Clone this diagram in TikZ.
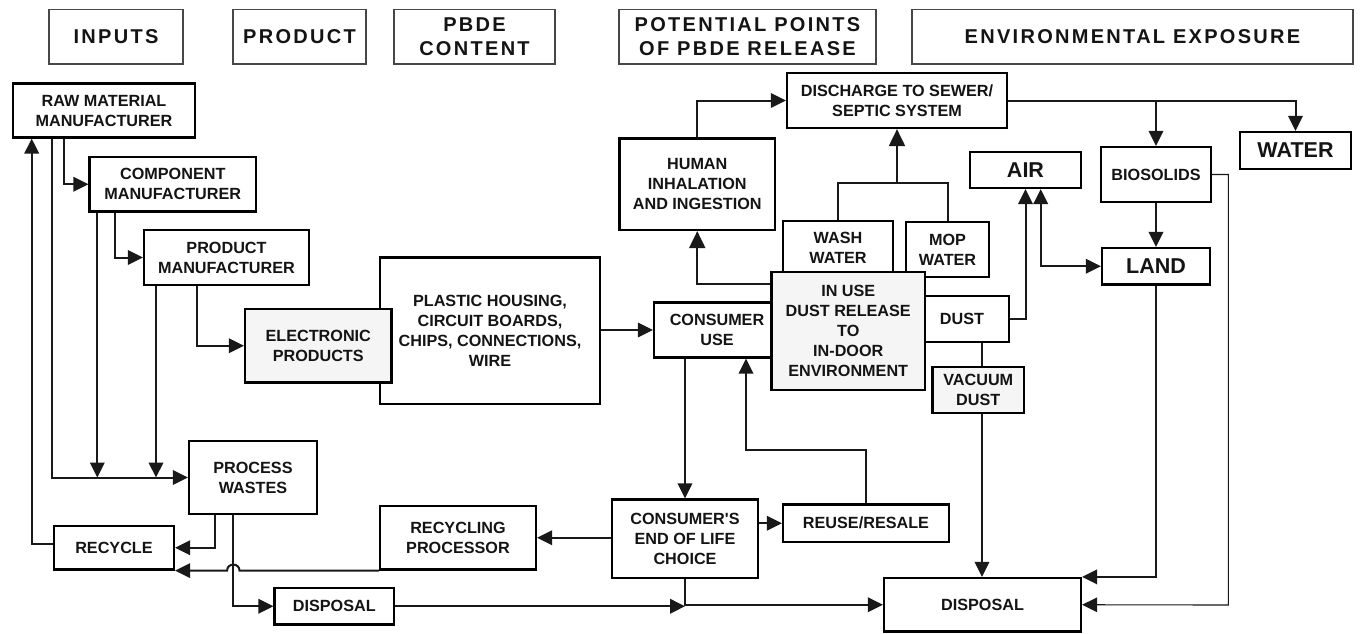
\documentclass[tikz,border=0pt]{standalone}
\usepackage{fontspec}
\setmainfont{Liberation Sans}
\newfontfamily\hdrfont[LetterSpace=11.5]{Liberation Sans}
\usetikzlibrary{arrows.meta}
\newcommand\bx[7][box]{\node[#1, minimum width={#5-#3}, minimum height={#6-#4}] (#2) at ({(#3+#5)/2},{(#4+#6)/2}) {#7};}
\begin{document}
\begin{tikzpicture}[x=1pt,y=-1pt,
  box/.style={draw=black, line width=2.2pt, fill=white, inner sep=0pt, align=center, text=black!92, font=\bfseries\fontsize{16.2}{20}\selectfont},
  gbox/.style={box, fill=black!4},
  hdr/.style={draw=black!72, line width=1.5pt, fill=white, inner sep=0pt, align=center, text=black!92, font=\hdrfont\bfseries\fontsize{20}{23.5}\selectfont},
  big/.style={font=\bfseries\fontsize{21.5}{24}\selectfont},
  conn/.style={line width=2pt, draw=black!90},
  thinconn/.style={line width=1.1pt, draw=black!90},
  tip/.tip={Triangle[length=15pt,width=14.5pt]},
  bigtip/.tip={Triangle[length=17pt,width=16pt]},
  arr/.style={conn, -tip},
]
\useasboundingbox (0,0) rectangle (1361,633);
\fill[white] (0,0) rectangle (1361,633);
% headers
\bx[hdr]{hInputs}{49}{9.5}{183}{64}{INPUTS}
\bx[hdr]{hProduct}{233}{9.5}{366}{64}{PRODUCT}
\bx[hdr]{hPbde}{394}{9.5}{555}{64}{PBDE\\CONTENT}
\bx[hdr]{hPot}{619}{9.5}{876}{64}{POTENTIAL POINTS\\OF PBDE RELEASE}
\bx[hdr]{hEnv}{912}{9.5}{1353}{64}{ENVIRONMENTAL EXPOSURE}
% boxes
\bx{raw}{13}{83.5}{195}{137.5}{RAW MATERIAL\\MANUFACTURER}
\bx{comp}{89.5}{157}{256}{211.5}{COMPONENT\\MANUFACTURER}
\bx{pm}{144}{230}{309}{285}{PRODUCT\\MANUFACTURER}
\bx{plastic}{380}{257.5}{600}{404}{PLASTIC HOUSING,\\CIRCUIT BOARDS,\\CHIPS, CONNECTIONS,\\WIRE}
\bx[gbox]{elec}{245}{309}{391.5}{382.5}{ELECTRONIC\\PRODUCTS}
\bx{cu}{654}{302.5}{780}{357.5}{CONSUMER\\USE}
\bx{wash}{783}{221}{893}{274}{WASH\\WATER}
\bx{mop}{906}{222}{989}{277}{MOP\\WATER}
\bx{dust}{915}{296}{1009}{342}{DUST}
\bx[gbox]{inuse}{771.5}{272}{925}{390}{IN USE\\DUST RELEASE\\TO\\IN-DOOR\\ENVIRONMENT}
\bx{human}{619.5}{138.5}{775}{230}{HUMAN\\INHALATION\\AND INGESTION}
\bx{disch}{787}{73}{1007}{128}{DISCHARGE TO SEWER/\\SEPTIC SYSTEM}
\bx[gbox]{vac}{932.5}{367}{1024}{413}{VACUUM\\DUST}
\bx[box,big]{air}{970}{152}{1081}{188}{AIR}
\bx{bios}{1101}{147}{1211}{202}{BIOSOLIDS}
\bx[box,big]{water}{1240}{132}{1351}{169}{WATER}
\bx[box,big]{land}{1102}{248}{1210}{284.5}{LAND}
\bx{disp}{884}{578}{1081}{631.5}{DISPOSAL}
\bx{pw}{189}{441}{317}{514}{PROCESS\\WASTES}
\bx{recycle}{54}{526}{174}{569.5}{RECYCLE}
\bx{recproc}{380}{506}{536}{569.5}{RECYCLING\\PROCESSOR}
\bx{dispS}{274.5}{588}{394}{624.5}{DISPOSAL}
\bx{eol}{612}{499.5}{758}{578}{CONSUMER\textquotesingle S\\END OF LIFE\\CHOICE}
\bx{reuse}{783}{504.5}{949}{542}{REUSE/RESALE}
% free ends
\coordinate (j1) at (97.3,477.5);
\coordinate (j2) at (156,477.5);
\coordinate (j3) at (1228.3,605);
\coordinate (j4) at (746,450);
% connectors: inputs
\draw[arr] (raw.south -| 64,0) |- (comp.west);
\draw[arr] (raw.south -| 51.7,0) |- (pw.west);
\draw[arr] (recycle.west |- 0,544) -| (raw.south -| 31.7,0);
\draw[arr] (comp.south -| 97.3,0) -- (j1);
\draw[arr] (comp.south -| 115.3,0) |- (pm.west);
\draw[arr] (pm.south -| 156,0) -- (j2);
\draw[arr] (pm.south -| 196.7,0) |- (elec.west);
\draw[arr] (plastic.east |- cu.west) -- (cu.west);
% consumer use region
\draw[conn, -bigtip] (inuse.west |- 0,284) -| (human.south);
\draw[arr] (human.north) |- (disch.west);
\draw[conn] (wash.north) |- (mop.north |- 0,183.3) -- (mop.north);
\draw[conn, -bigtip] (disch.south |- 0,183.3) -- (disch.south);
\draw[arr] (disch.east) -| (water.north);
\draw[arr] (bios.north |- disch.east) -- (bios.north);
\draw[arr] (bios.south) -- (land.north);
\draw[arr] (dust.east) -| (air.south);
\draw[conn, tip-tip] (land.west) -| (air.south -| 1040.7,0);
\draw[thinconn, -tip] (bios.east) -| (j3) -- (disp.east);
\draw[arr] (land.south) |- (disp.north east);
\draw[conn] (dust.south -| 982,0) -- (vac.north -| 982,0);
\draw[arr] (vac.south -| 982,0) -- (disp.north -| 982,0);
\draw[arr] (cu.south -| eol.north) -- (eol.north);
\draw[arr] (reuse.north) |- (j4) -- (cu.south -| j4);
\draw[arr] (eol.east |- reuse.west) -- (reuse.west);
\draw[arr] (eol.west |- recproc.east) -- (recproc.east);
% recycling / wastes
\draw[arr] (recproc.south west) -- (recproc.south west -| 239.5,0) .. controls +(0,-8) and +(0,-8) .. (recproc.south west -| 227.1,0) -- (recycle.south east);
\draw[arr] (pw.south -| 215,0) |- (recycle.east);
\draw[arr] (pw.south -| 233.3,0) |- (dispS.west);
\draw[arr] (dispS.east) -- (eol.south |- dispS.east);
\draw[arr] (eol.south) |- (disp.west);
\end{tikzpicture}
\end{document}
